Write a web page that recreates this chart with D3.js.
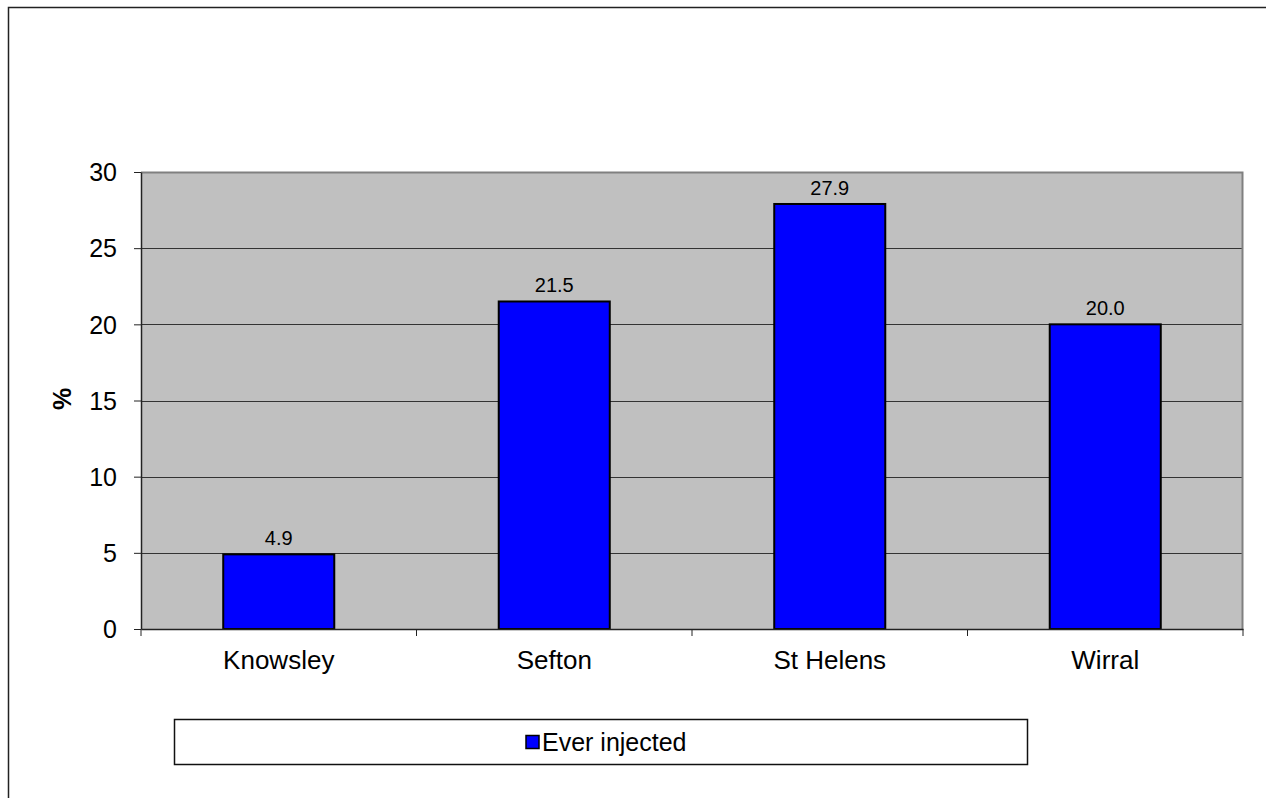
<!DOCTYPE html>
<html><head><meta charset="utf-8">
<script src="https://cdn.jsdelivr.net/npm/d3@7"></script>
<style>body{margin:0;background:#fff}svg{display:block}text{font-family:"Liberation Sans",Arial,sans-serif}</style>
</head><body><svg id="c" width="1266" height="798"></svg>
<script>
const categories = ["Knowsley","Sefton","St Helens","Wirral"];
const values = [4.9,21.5,27.9,20.0];
const yTicks = [0,5,10,15,20,25,30];
const seriesName = "Ever injected";

const svg = d3.select("#c");
const L=141, T=172, R=1243, B=629;
svg.append("rect").attr("x",8.5).attr("y",7.5).attr("width",1270).attr("height",800)
  .attr("fill","#fff").attr("stroke","#222").attr("stroke-width",1.5);

const x = d3.scaleBand().domain(categories).range([L,R]).paddingInner(0).paddingOuter(0);
const y = d3.scaleLinear().domain([0,30]).range([B,T]);

svg.append("rect").attr("x",L).attr("y",T).attr("width",R-L).attr("height",B-T).attr("fill","#c0c0c0");
svg.append("g").selectAll("line").data(yTicks.slice(1)).join("line")
  .attr("x1",L).attr("x2",R).attr("y1",d=>Math.round(y(d))+0.5).attr("y2",d=>Math.round(y(d))+0.5)
  .attr("stroke","#333").attr("stroke-width",1);
svg.append("path").attr("d",`M${L},${T+0.5}H${R-0.5}V${B}`).attr("fill","none").attr("stroke","#808080").attr("stroke-width",2);

const bw = x.bandwidth()*0.403;
svg.append("g").selectAll("rect").data(values).join("rect")
  .attr("x",(d,i)=>x(categories[i])+x.bandwidth()/2-bw/2)
  .attr("y",d=>y(d)).attr("width",bw).attr("height",d=>B-y(d))
  .attr("fill","#0000ff").attr("stroke","#000").attr("stroke-width",2);
svg.append("g").selectAll("text").data(values).join("text")
  .attr("x",(d,i)=>x(categories[i])+x.bandwidth()/2).attr("y",d=>y(d)-9)
  .attr("text-anchor","middle").attr("font-size",20).attr("fill","#000").text(d=>d.toFixed(1));

const ya = svg.append("g").attr("transform",`translate(${L},0)`)
  .call(d3.axisLeft(y).tickValues(yTicks).tickSize(7).tickPadding(17).tickSizeOuter(0));
ya.attr("font-size",null).attr("font-family",null);
ya.select(".domain").attr("stroke","#222").attr("stroke-width",1.5);
ya.selectAll(".tick line").attr("stroke","#222");
ya.selectAll("text").attr("font-size",25).attr("fill","#000").attr("dy","0.35em");
const xa = svg.append("g").attr("transform",`translate(0,${B})`)
  .call(d3.axisBottom(x).tickSize(0).tickPadding(0).tickSizeOuter(0));
xa.attr("font-size",null).attr("font-family",null);
xa.select(".domain").attr("stroke","#222").attr("stroke-width",1.5);
xa.selectAll("text").attr("font-size",26).attr("fill","#000").attr("y",40).attr("dy",null);
const bounds = categories.map(c=>x(c)).concat([R]);
svg.append("g").selectAll("line").data(bounds).join("line")
  .attr("x1",d=>d).attr("x2",d=>d).attr("y1",B).attr("y2",B+7).attr("stroke","#222").attr("stroke-width",1);

svg.append("text").attr("transform","translate(71,399) rotate(-90)").attr("text-anchor","middle")
  .attr("font-size",25).attr("font-weight","bold").attr("fill","#000").text("%");

svg.append("rect").attr("x",174.5).attr("y",719.5).attr("width",853).attr("height",45)
  .attr("fill","#fff").attr("stroke","#111").attr("stroke-width",1.5);
svg.append("rect").attr("x",526).attr("y",735.5).attr("width",13).attr("height",13)
  .attr("fill","#0000ff").attr("stroke","#000").attr("stroke-width",1.5);
svg.append("text").attr("x",542).attr("y",751).attr("font-size",25).attr("fill","#000").text(seriesName);
</script></body></html>
